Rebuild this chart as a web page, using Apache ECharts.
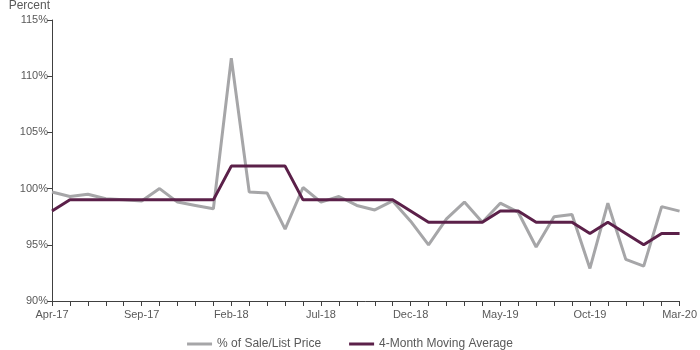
<!DOCTYPE html>
<html>
<head>
<meta charset="utf-8">
<script src="https://cdn.jsdelivr.net/npm/echarts@6/dist/echarts.min.js"></script>
<style>
  html, body { margin: 0; padding: 0; background: #fff; }
  #container { width: 700px; height: 350px; }
</style>
</head>
<body>
<div id="container"></div>
<script>
var dom = document.getElementById("container");
var myChart = echarts.init(dom);
var option;

var months = ['Apr-17','May-17','Jun-17','Jul-17','Aug-17','Sep-17','Oct-17','Nov-17','Dec-17','Jan-18',
    'Feb-18','Mar-18','Apr-18','May-18','Jun-18','Jul-18','Aug-18','Sep-18','Oct-18','Nov-18',
    'Dec-18','Jan-19','Feb-19','Mar-19','Apr-19','May-19','Jun-19','Jul-19','Aug-19','Sep-19',
    'Oct-19','Nov-19','Dec-19','Jan-20','Feb-20','Mar-20'];
var saleListPrice = [99.7,99.3,99.5,99.1,99.0,98.9,100.0,98.8,98.5,98.2,
    111.6,99.7,99.6,96.4,100.1,98.8,99.3,98.5,98.1,98.9,
    97.1,95.0,97.3,98.8,97.0,98.7,97.9,94.8,97.5,97.7,
    92.9,98.7,93.7,93.1,98.4,98.0];
var movingAvg = [98,99,99,99,99,99,99,99,99,99,
    102,102,102,102,99,99,99,99,99,99,
    98,97,97,97,97,98,98,97,97,97,
    96,97,96,95,96,96];

var textColor = '#595959';
var axisColor = '#404040';

option = {
    animation: false,
    textStyle: { fontFamily: 'Liberation Sans, Arial, sans-serif' },
    grid: {
        top: 20,
        bottom: 49,
        left: 52,
        right: 18
    },
    legend: {
        top: 333,
        left: 'center',
        itemWidth: 25,
        itemHeight: 3,
        itemGap: 28,
        icon: 'rect',
        textStyle: { color: textColor, fontSize: 12 },
        data: ['% of Sale/List Price', '4-Month Moving Average']
    },
    xAxis: {
        type: 'category',
        boundaryGap: false,
        data: months,
        axisLine: { lineStyle: { color: axisColor, width: 1 } },
        axisTick: { show: true, interval: 0, length: 5, lineStyle: { color: axisColor } },
        axisLabel: { interval: 4, color: textColor, fontSize: 11, margin: 8 }
    },
    yAxis: {
        type: 'value',
        name: 'Percent',
        nameLocation: 'end',
        nameGap: 8,
        nameTextStyle: { color: textColor, fontSize: 12, align: 'right', padding: [0, 2, 0, 0] },
        min: 90,
        max: 115,
        interval: 5,
        splitLine: { show: false },
        axisLine: { show: true, lineStyle: { color: axisColor, width: 1 } },
        axisTick: { show: true, length: 5, lineStyle: { color: axisColor } },
        axisLabel: { color: textColor, fontSize: 11, margin: 4, formatter: '{value}%' }
    },
    series: [
        {
            name: '% of Sale/List Price',
            type: 'line',
            data: saleListPrice,
            symbol: 'none',
            lineStyle: { color: '#a6a6a8', width: 3 },
            itemStyle: { color: '#a6a6a8' }
        },
        {
            name: '4-Month Moving Average',
            type: 'line',
            data: movingAvg,
            symbol: 'none',
            lineStyle: { color: '#5b2049', width: 3 },
            itemStyle: { color: '#5b2049' }
        }
    ]
};
if (option && typeof option === 'object') {
    myChart.setOption(option);
}
</script>
</body>
</html>
